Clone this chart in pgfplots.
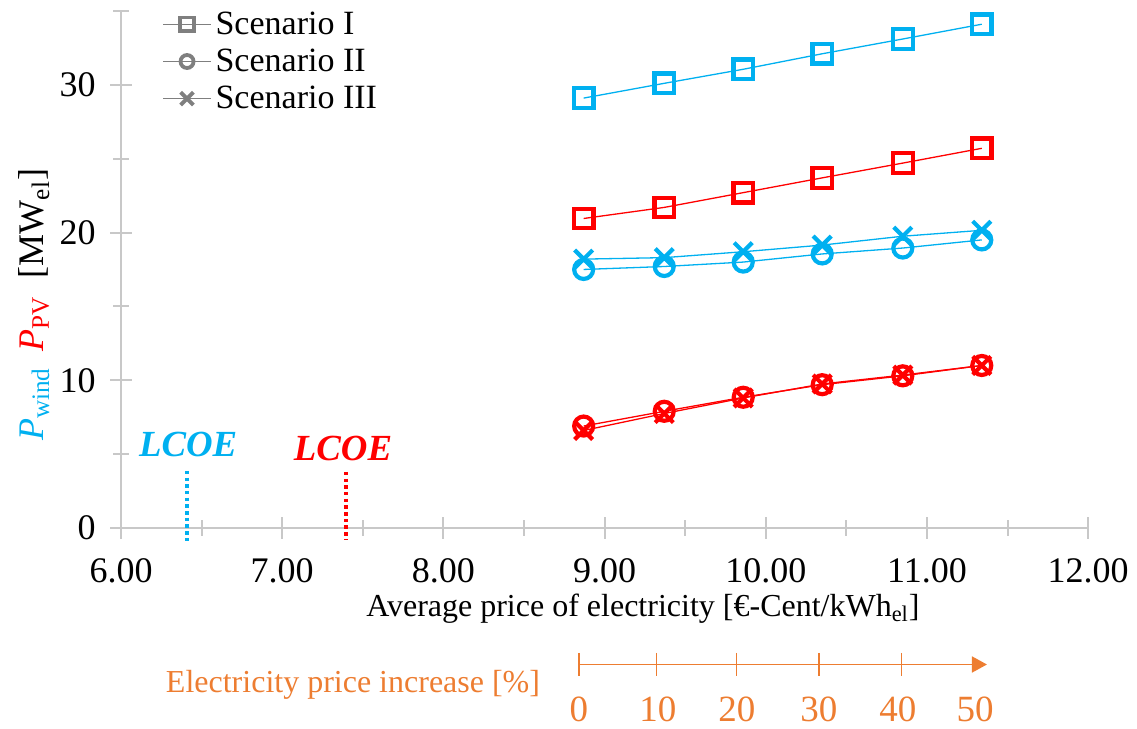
\documentclass[border=0pt]{standalone}
\usepackage{pgfplots}
\usepackage{pgfplotstable}
\pgfplotsset{compat=1.18}
\usepackage{fontspec}
\setmainfont{Liberation Serif}
\usetikzlibrary{arrows.meta}

\definecolor{windblue}{HTML}{00B0F0}
\definecolor{pvred}{HTML}{FF0000}
\definecolor{incorange}{HTML}{ED7D31}
\definecolor{axgray}{HTML}{C8C8C8}
\definecolor{leggray}{HTML}{7F7F7F}

% average price of electricity vs installed capacity
\pgfplotstableread{
price  windI  windII windIII pvI    pvII  pvIII
8.87   29.10  17.50  18.20   20.95  6.90  6.60
9.37   30.10  17.70  18.30   21.70  7.90  7.75
9.86   31.05  18.00  18.70   22.70  8.85  8.80
10.35  32.10  18.55  19.15   23.70  9.70  9.75
10.85  33.10  18.95  19.75   24.70  10.30 10.35
11.34  34.10  19.50  20.15   25.70  11.00 11.00
}\datatable

\begin{document}
\begin{tikzpicture}
\begin{axis}[
  scale only axis, width=483.5pt, height=258.5pt,
  xmin=6, xmax=12, ymin=0, ymax=35,
  clip=false,
  axis lines=left,
  axis line style={-, axgray, line width=1pt},
  xtick={6,7,...,12}, minor xtick={6.5,7.5,...,11.5},
  ytick={0,10,20,30}, minor ytick={5,15,25,35},
  tick align=center, major tick length=11pt, minor tick length=8pt,
  every tick/.style={axgray, line width=1pt},
  tick label style={font=\fontsize{18}{20}\selectfont},
  /pgf/number format/assume math mode=true,
  x tick label style={/pgf/number format/fixed, /pgf/number format/fixed zerofill,
    /pgf/number format/precision=2, anchor=base, yshift=-22pt},
  y tick label style={anchor=east, inner sep=0pt, xshift=-7pt},
  legend style={at={(axis cs:6.255,35.25)}, anchor=north west, draw=none, fill=none,
    inner sep=0pt, font=\fontsize{17}{19}\selectfont, row sep=1.8pt},
  legend cell align=left,
  legend image code/.code={\draw[mark repeat=2, mark phase=2] plot coordinates {(0pt,0pt) (12pt,0pt) (24pt,0pt)};},
]
\addlegendimage{leggray, line width=0.5pt, mark=square, mark size=3.4pt, mark options={line width=1.9pt}}
\addlegendentry{Scenario I}
\addlegendimage{leggray, line width=0.5pt, mark=o, mark size=3.25pt, mark options={line width=1.9pt}}
\addlegendentry{Scenario II}
\addlegendimage{leggray, line width=0.5pt, mark=x, mark size=4.5pt, mark options={line width=1.9pt}}
\addlegendentry{Scenario III}

\addplot[windblue, line width=0.65pt, mark=square, mark size=4.9pt, mark options={line width=2.1pt}, forget plot] table[x=price, y=windI] {\datatable};
\addplot[pvred, line width=0.65pt, mark=square, mark size=4.9pt, mark options={line width=2.1pt}, forget plot] table[x=price, y=pvI] {\datatable};
\addplot[windblue, line width=0.65pt, mark=o, mark size=4.75pt, mark options={line width=2.1pt}, forget plot] table[x=price, y=windII] {\datatable};
\addplot[windblue, line width=0.65pt, mark=x, mark size=6.4pt, mark options={line width=2.1pt}, forget plot] table[x=price, y=windIII] {\datatable};
\addplot[pvred, line width=0.65pt, mark=o, mark size=4.75pt, mark options={line width=2.1pt}, forget plot] table[x=price, y=pvII] {\datatable};
\addplot[pvred, line width=0.65pt, mark=x, mark size=6.4pt, mark options={line width=2.1pt}, forget plot] table[x=price, y=pvIII] {\datatable};

% LCOE markers
\addplot[windblue, line width=2.2pt, dash pattern=on 1.75pt off 1.6pt, forget plot] coordinates {(6.408,3.87) (6.408,-0.86)};
\addplot[pvred, line width=2.2pt, dash pattern=on 1.75pt off 1.6pt, forget plot] coordinates {(7.396,3.80) (7.396,-0.81)};
\node[windblue, font=\fontsize{18.4}{20}\selectfont\bfseries\itshape] at (axis cs:6.416,5.68) {LCOE};
\node[pvred, font=\fontsize{18.4}{20}\selectfont\bfseries\itshape] at (axis cs:7.377,5.40) {LCOE};

% y label
\node[rotate=90, font=\fontsize{18}{20}\selectfont] at (axis cs:5.46,15.1)
  {\textcolor{windblue}{\textit{P}\textsubscript{wind}}\hspace{0.45em}\textcolor{pvred}{\textit{P}\textsubscript{PV}}\hspace{0.5em}[MW\textsubscript{el}]};

% x label
\node[anchor=base, font=\fontsize{16}{18}\selectfont] at (axis cs:9.238,-6.0)
  {Average price of electricity [€-Cent/kWh\textsubscript{el}]};

% electricity price increase scale
\draw[incorange, line width=0.9pt, -{Triangle[length=7.5pt,width=8pt]}] (axis cs:8.841,-9.24) -- (axis cs:11.372,-9.24);
\pgfplotsinvokeforeach{8.841,9.323,9.819,10.33,10.843}{
  \draw[incorange, line width=0.6pt] (axis cs:#1,-8.45) -- (axis cs:#1,-10.03);
}
\node[incorange, anchor=base, font=\fontsize{16}{18}\selectfont] at (axis cs:7.439,-11.15) {Electricity price increase [\%]};
\node[incorange, anchor=base, font=\fontsize{18.5}{20}\selectfont] at (axis cs:8.841,-13.1) {0};
\node[incorange, anchor=base, font=\fontsize{18.5}{20}\selectfont] at (axis cs:9.331,-13.1) {10};
\node[incorange, anchor=base, font=\fontsize{18.5}{20}\selectfont] at (axis cs:9.821,-13.1) {20};
\node[incorange, anchor=base, font=\fontsize{18.5}{20}\selectfont] at (axis cs:10.33,-13.1) {30};
\node[incorange, anchor=base, font=\fontsize{18.5}{20}\selectfont] at (axis cs:10.82,-13.1) {40};
\node[incorange, anchor=base, font=\fontsize{18.5}{20}\selectfont] at (axis cs:11.298,-13.1) {50};

% page extent
\path (axis cs:5.249,35.74) rectangle (axis cs:12.303,-13.45);
\end{axis}
\end{tikzpicture}
\end{document}
